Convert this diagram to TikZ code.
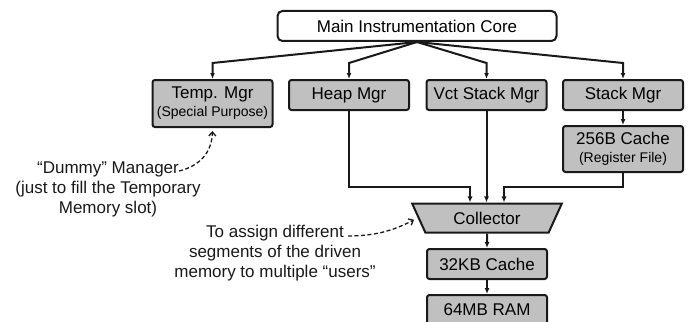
\documentclass[tikz,border=0pt]{standalone}
\usepackage{fontspec}
\setmainfont{Liberation Sans}
\usetikzlibrary{arrows.meta,shapes.geometric,calc}
\definecolor{boxgray}{RGB}{192,192,192}
\definecolor{edge}{RGB}{25,25,25}
\tikzset{
  >={Latex[length=6pt,width=5pt]},
  mgr/.style={draw=edge,fill=boxgray,line width=2pt,rounded corners=2.5pt,
    minimum width=120pt,minimum height=30pt,align=center,inner sep=1pt,
    font=\fontsize{17}{19}\selectfont},
  core/.style={mgr,fill=white,minimum width=279pt,rounded corners=5pt},
  collector/.style={draw=edge,fill=boxgray,line width=2pt,trapezium,
    shape border rotate=180,trapezium angle=63,trapezium stretches=true,
    minimum width=150pt,minimum height=29pt,inner sep=1pt,
    font=\fontsize{17}{19}\selectfont},
  flow/.style={->,line width=2pt,draw=edge},
  remark/.style={align=center,font=\fontsize{17}{20}\selectfont,text=edge},
  remark arrow/.style={-{Straight Barb[length=4pt,width=7pt]},line width=1.3pt,
    draw=edge,dash pattern=on 4pt off 2.5pt},
}
\newcommand{\subline}[1]{{\fontsize{14}{15}\selectfont #1}}

\begin{document}
\begin{tikzpicture}[x=1pt,y=-1pt]
  \useasboundingbox (0,0) rectangle (690,321);
  \node[core] (main) at (417,26) {Main Instrumentation Core};
  \node[mgr,minimum height=47pt] (temp) at (212.5,103.5) {Temp. Mgr\\[-1pt]\subline{(Special Purpose)}};
  \node[mgr] (heap) at (349,95) {Heap Mgr};
  \node[mgr] (vct) at (486.5,95) {Vct Stack Mgr};
  \node[mgr] (stack) at (623,95) {Stack Mgr};
  \node[mgr,minimum height=46pt] (regs) at (623,149) {256B Cache\\[-1pt]\subline{(Register File)}};
  \node[collector] (coll) at (487,218) {Collector};
  \node[mgr] (cache) at (487,264) {32KB Cache};
  \node[mgr] (ram) at (487,310) {64MB RAM};

  % core fans out to the managers
  \foreach \m in {temp,heap,vct,stack}
    \draw[flow] (main.south) -- (\m.north |- 0,63) -- (\m.north);
  \draw[flow] (stack.south) -- (regs.north);

  % everything funnels into the collector
  \coordinate (inL) at ([xshift=-17pt]coll.north);
  \coordinate (inR) at ([xshift=17pt]coll.north);
  \draw[flow] (heap.south) |- (inL |- 0,187) -- (inL);
  \draw[flow] (vct.south) -- (vct.south |- coll.north);
  \draw[flow] (regs.south) |- (inR |- 0,187) -- (inR);
  \draw[flow] (coll.south) -- (cache.north);
  \draw[flow] (cache.south) -- (ram.north);

  % remarks
  \node[remark] (dummy) at (108,189) {“Dummy” Manager\\(just to fill the Temporary\\Memory slot)};
  \coordinate (dummyEnd) at (179,171);
  \draw[remark arrow,shorten >=3pt] (dummyEnd) .. controls (200,166) and (212,152) .. (temp.south);
  \node[remark] (users) at (275,253) {To assign different\\segments of the driven\\memory to multiple “users”};
  \coordinate (usersEnd) at (348,236);
  \draw[remark arrow,shorten >=4pt] (usersEnd) .. controls (380,236) and (398,228) .. (coll.west);
\end{tikzpicture}
\end{document}
